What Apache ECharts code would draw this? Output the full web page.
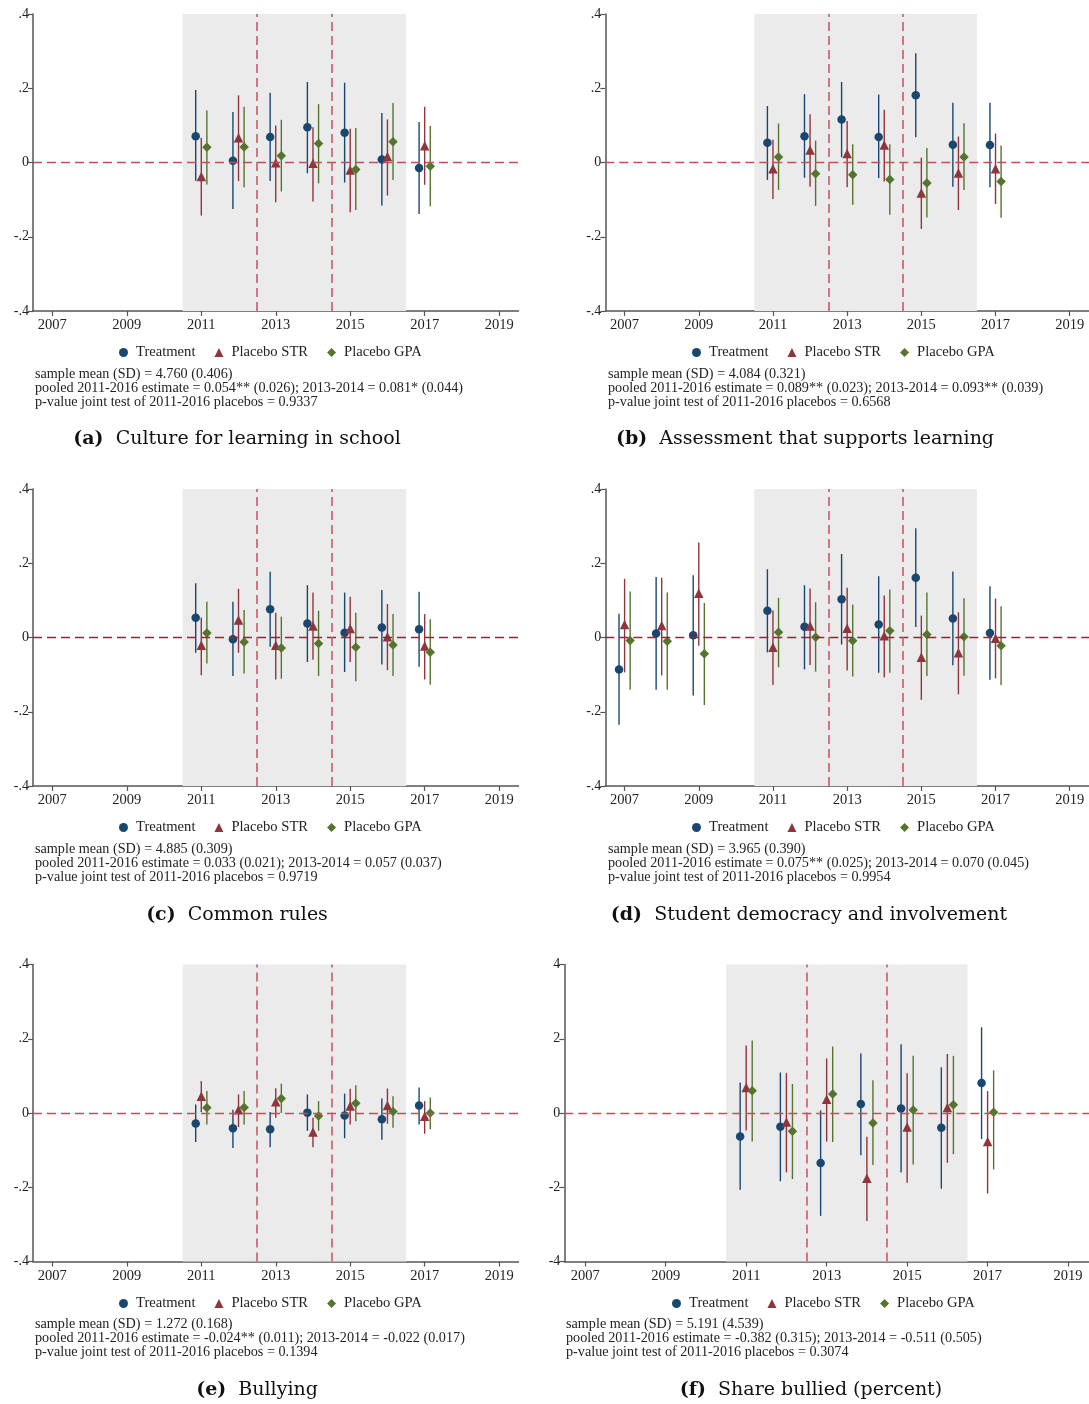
<!DOCTYPE html>
<html>
<head>
<meta charset="utf-8">
<script src="https://cdn.jsdelivr.net/npm/echarts@6/dist/echarts.min.js"></script>
<style>html,body{margin:0;padding:0;background:#fff;}#c{width:1089px;height:1404px;}</style>
</head>
<body>
<div id="c"></div>
<script>
// ---------- DATA: [estimate, CI low, CI high] per year ----------
const years = [2011, 2012, 2013, 2014, 2015, 2016, 2017];
const yearsD = [2007, 2008, 2009, 2011, 2012, 2013, 2014, 2015, 2016, 2017];
const xTicks = [2007, 2009, 2011, 2013, 2015, 2017, 2019];

// (a) Culture for learning in school
const a_treatment = [[0.071,-0.049,0.195],[0.005,-0.125,0.136],[0.069,-0.050,0.188],[0.095,-0.029,0.217],[0.080,-0.054,0.215],[0.008,-0.116,0.133],[-0.015,-0.139,0.109]];
const a_str = [[-0.038,-0.143,0.067],[0.067,-0.050,0.181],[-0.001,-0.107,0.100],[-0.002,-0.105,0.095],[-0.020,-0.134,0.091],[0.016,-0.089,0.116],[0.045,-0.060,0.150]];
const a_gpa = [[0.041,-0.059,0.140],[0.042,-0.067,0.150],[0.018,-0.078,0.115],[0.051,-0.056,0.157],[-0.019,-0.128,0.093],[0.056,-0.047,0.160],[-0.010,-0.118,0.098]];

// (b) Assessment that supports learning
const b_treatment = [[0.053,-0.047,0.152],[0.071,-0.041,0.184],[0.116,0.014,0.217],[0.069,-0.042,0.183],[0.181,0.068,0.294],[0.048,-0.065,0.161],[0.047,-0.067,0.161]];
const b_str = [[-0.017,-0.098,0.061],[0.034,-0.065,0.130],[0.024,-0.067,0.112],[0.047,-0.051,0.142],[-0.082,-0.179,0.013],[-0.028,-0.128,0.070],[-0.017,-0.112,0.078]];
const b_gpa = [[0.015,-0.074,0.105],[-0.030,-0.117,0.059],[-0.033,-0.114,0.049],[-0.046,-0.141,0.049],[-0.055,-0.148,0.039],[0.015,-0.074,0.106],[-0.051,-0.149,0.046]];

// (c) Common rules
const c_treatment = [[0.053,-0.041,0.146],[-0.005,-0.104,0.096],[0.076,-0.025,0.177],[0.038,-0.066,0.141],[0.013,-0.093,0.121],[0.027,-0.073,0.128],[0.022,-0.079,0.123]];
const c_str = [[-0.021,-0.102,0.054],[0.047,-0.041,0.131],[-0.021,-0.113,0.067],[0.031,-0.060,0.121],[0.024,-0.066,0.110],[0.002,-0.088,0.090],[-0.023,-0.113,0.063]];
const c_gpa = [[0.012,-0.070,0.096],[-0.012,-0.097,0.074],[-0.028,-0.111,0.056],[-0.016,-0.104,0.072],[-0.026,-0.118,0.067],[-0.020,-0.104,0.063],[-0.040,-0.127,0.049]];

// (d) Student democracy and involvement
const d_treatment = [[-0.086,-0.235,0.064],[0.011,-0.141,0.163],[0.006,-0.156,0.168],[0.072,-0.040,0.184],[0.029,-0.086,0.141],[0.103,-0.019,0.225],[0.035,-0.095,0.165],[0.161,0.028,0.294],[0.051,-0.075,0.178],[0.012,-0.114,0.138]];
const d_str = [[0.035,-0.094,0.158],[0.032,-0.102,0.161],[0.119,-0.022,0.256],[-0.026,-0.128,0.073],[0.031,-0.074,0.132],[0.025,-0.089,0.134],[0.005,-0.107,0.113],[-0.053,-0.168,0.059],[-0.041,-0.153,0.068],[-0.002,-0.110,0.105]];
const d_gpa = [[-0.008,-0.141,0.124],[-0.010,-0.141,0.121],[-0.044,-0.182,0.093],[0.014,-0.080,0.107],[0.001,-0.092,0.095],[-0.009,-0.105,0.089],[0.018,-0.095,0.129],[0.008,-0.104,0.121],[0.002,-0.103,0.106],[-0.022,-0.128,0.084]];

// (e) Bullying
const e_treatment = [[-0.028,-0.078,0.023],[-0.041,-0.094,0.009],[-0.044,-0.092,0.003],[0.001,-0.048,0.050],[-0.007,-0.068,0.052],[-0.017,-0.072,0.039],[0.020,-0.031,0.069]];
const e_str = [[0.045,0.003,0.086],[0.009,-0.038,0.050],[0.030,-0.013,0.067],[-0.051,-0.092,-0.013],[0.019,-0.031,0.065],[0.020,-0.029,0.066],[-0.009,-0.056,0.032]];
const e_gpa = [[0.014,-0.031,0.059],[0.015,-0.031,0.059],[0.039,0.000,0.079],[-0.008,-0.048,0.032],[0.026,-0.022,0.075],[0.004,-0.040,0.045],[0.000,-0.044,0.042]];

// (f) Share bullied (percent)
const f_treatment = [[-0.63,-2.07,0.82],[-0.37,-1.84,1.09],[-1.35,-2.77,0.07],[0.24,-1.14,1.60],[0.12,-1.60,1.85],[-0.40,-2.04,1.23],[0.81,-0.70,2.31]];
const f_str = [[0.69,-0.47,1.82],[-0.24,-1.60,1.08],[0.37,-0.77,1.47],[-1.76,-2.91,-0.64],[-0.38,-1.88,1.07],[0.15,-1.34,1.59],[-0.77,-2.17,0.59]];
const f_gpa = [[0.60,-0.77,1.95],[-0.49,-1.78,0.78],[0.51,-0.78,1.79],[-0.27,-1.40,0.88],[0.08,-1.39,1.54],[0.22,-1.11,1.54],[0.02,-1.52,1.15]];

const seriesNames = ['Treatment', 'Placebo STR', 'Placebo GPA'];

const notes_a = ['sample mean (SD) = 4.760 (0.406)', 'pooled 2011-2016 estimate = 0.054** (0.026); 2013-2014 = 0.081* (0.044)', 'p-value joint test of 2011-2016 placebos = 0.9337'];
const notes_b = ['sample mean (SD) = 4.084 (0.321)', 'pooled 2011-2016 estimate = 0.089** (0.023); 2013-2014 = 0.093** (0.039)', 'p-value joint test of 2011-2016 placebos = 0.6568'];
const notes_c = ['sample mean (SD) = 4.885 (0.309)', 'pooled 2011-2016 estimate = 0.033 (0.021); 2013-2014 = 0.057 (0.037)', 'p-value joint test of 2011-2016 placebos = 0.9719'];
const notes_d = ['sample mean (SD) = 3.965 (0.390)', 'pooled 2011-2016 estimate = 0.075** (0.025); 2013-2014 = 0.070 (0.045)', 'p-value joint test of 2011-2016 placebos = 0.9954'];
const notes_e = ['sample mean (SD) = 1.272 (0.168)', 'pooled 2011-2016 estimate = -0.024** (0.011); 2013-2014 = -0.022 (0.017)', 'p-value joint test of 2011-2016 placebos = 0.1394'];
const notes_f = ['sample mean (SD) = 5.191 (4.539)', 'pooled 2011-2016 estimate = -0.382 (0.315); 2013-2014 = -0.511 (0.505)', 'p-value joint test of 2011-2016 placebos = 0.3074'];

const captionLetters = ['(a)', '(b)', '(c)', '(d)', '(e)', '(f)'];
const captionTexts = ['Culture for learning in school', 'Assessment that supports learning', 'Common rules', 'Student democracy and involvement', 'Bullying', 'Share bullied (percent)'];

// ---------- STYLE / LAYOUT ----------
const COLORS = ['#1a476f', '#90353b', '#55752f'];
const SYMBOLS = ['circle', 'triangle', 'diamond'];
const SYMSIZE = [8.5, 9.5, 9.5];
const OFFSET = [-0.15, 0, 0.15];
const SERIF = '"Liberation Serif", "Times New Roman", serif';
const CAPFONT = '"DejaVu Serif", serif';

const panels = [
  {grid:{left:33, top:14, width:485.5, height:297}, years:years, data:[a_treatment,a_str,a_gpa], yMin:-0.4, yMax:0.4, yInt:0.2, zc:'#c94b5a', notes:notes_a, nx:35, ny:374.5, lx:119, ly:352, cx:237, cy:439},
  {grid:{left:605.3, top:14, width:485.5, height:297}, years:years, data:[b_treatment,b_str,b_gpa], yMin:-0.4, yMax:0.4, yInt:0.2, zc:'#c94b5a', notes:notes_b, nx:608, ny:374.5, lx:692, ly:352, cx:805, cy:439},
  {grid:{left:33, top:489, width:485.5, height:297}, years:years, data:[c_treatment,c_str,c_gpa], yMin:-0.4, yMax:0.4, yInt:0.2, zc:'#8a2a35', notes:notes_c, nx:35, ny:849.5, lx:119, ly:827, cx:237, cy:915},
  {grid:{left:605.3, top:489, width:485.5, height:297}, years:yearsD, data:[d_treatment,d_str,d_gpa], yMin:-0.4, yMax:0.4, yInt:0.2, zc:'#8a2a35', notes:notes_d, nx:608, ny:849.5, lx:692, ly:827, cx:809, cy:915},
  {grid:{left:33, top:964.5, width:485.5, height:297}, years:years, data:[e_treatment,e_str,e_gpa], yMin:-0.4, yMax:0.4, yInt:0.2, zc:'#c94b5a', notes:notes_e, nx:35, ny:1324.5, lx:119, ly:1303, cx:257, cy:1390},
  {grid:{left:564.3, top:964.5, width:526.4, height:297}, years:years, data:[f_treatment,f_str,f_gpa], yMin:-4, yMax:4, yInt:2, zc:'#c94b5a', notes:notes_f, nx:566, ny:1324.5, lx:672, ly:1303, cx:811, cy:1390}
];

function fmtY(v) {
  if (Math.abs(v) < 1e-9) return '0';
  const s = Number(Math.abs(v).toFixed(3)).toString().replace(/^0\./, '.');
  return (v < 0 ? '-' : '') + s;
}

function renderCI(params, api) {
  const x = api.value(0), lo = api.value(1), hi = api.value(2);
  const p1 = api.coord([x, lo]), p2 = api.coord([x, hi]);
  return {type:'line', shape:{x1:p1[0], y1:p1[1], x2:p2[0], y2:p2[1]}, style:{stroke: api.visual('color'), lineWidth:1.4}};
}

const grids = [], xAxes = [], yAxes = [], series = [], legends = [], graphics = [];
const axisLineStyle = {color:'#555', width:1.5};

panels.forEach((p, i) => {
  grids.push(p.grid);
  xAxes.push({
    type:'value', gridIndex:i, min:2006.48, max:2019.52,
    axisLine:{show:true, onZero:false, lineStyle:axisLineStyle},
    axisTick:{show:true, length:5, lineStyle:{color:'#555', width:1.2}, customValues:xTicks},
    axisLabel:{customValues:xTicks, fontFamily:SERIF, fontSize:14.5, color:'#222', margin:7, formatter: v => String(v)},
    splitLine:{show:false}
  });
  yAxes.push({
    type:'value', gridIndex:i, min:p.yMin, max:p.yMax, interval:p.yInt,
    axisLine:{show:true, onZero:false, lineStyle:axisLineStyle},
    axisTick:{show:true, length:5, lineStyle:{color:'#555', width:1.2}},
    axisLabel:{fontFamily:SERIF, fontSize:14, color:'#222', margin:4, formatter: fmtY},
    splitLine:{show:false}
  });
  // background shading + reference lines
  series.push({
    type:'line', xAxisIndex:i, yAxisIndex:i, data:[], z:1, silent:true,
    markArea:{silent:true, itemStyle:{color:'#ebebeb'}, data:[[{xAxis:2010.5},{xAxis:2016.5}]]},
    markLine:{silent:true, symbol:'none', label:{show:false}, animation:false, data:[
      {yAxis:0, lineStyle:{color:p.zc, type:[9,5], width:1.4}},
      {xAxis:2012.5, lineStyle:{color:'#c95a68', type:[9,5], width:1.6}},
      {xAxis:2014.5, lineStyle:{color:'#c95a68', type:[9,5], width:1.6}}
    ]}
  });
  p.data.forEach((arr, k) => {
    series.push({
      name: seriesNames[k] + ' CI', type:'custom', xAxisIndex:i, yAxisIndex:i, z:3, silent:true,
      itemStyle:{color:COLORS[k]}, renderItem: renderCI,
      data: arr.map((d, j) => [p.years[j] + OFFSET[k], d[1], d[2]])
    });
  });
  p.data.forEach((arr, k) => {
    series.push({
      name: seriesNames[k], type:'scatter', xAxisIndex:i, yAxisIndex:i, z:4,
      symbol:SYMBOLS[k], symbolSize:SYMSIZE[k], itemStyle:{color:COLORS[k], opacity:1},
      data: arr.map((d, j) => [p.years[j] + OFFSET[k], d[0]])
    });
  });
  legends.push({
    left:p.lx, top:p.ly - 7, padding:0, itemGap:19, itemWidth:9, itemHeight:9,
    textStyle:{fontFamily:SERIF, fontSize:14.6, color:'#222', padding:[0,0,0,3]},
    selectedMode:false,
    data:[{name:'Treatment', icon:'circle'},{name:'Placebo STR', icon:'triangle'},{name:'Placebo GPA', icon:'diamond'}]
  });
  p.notes.forEach((t, j) => {
    graphics.push({type:'text', left:p.nx, top:p.ny + j*14.3 - 7.5, silent:true,
      style:{text:t, fontFamily:SERIF, fontSize:14.2, fill:'#222'}});
  });
  graphics.push({type:'text', x:p.cx, y:p.cy, silent:true,
    style:{text:'{b|' + captionLetters[i] + '}  ' + captionTexts[i], fontFamily:CAPFONT, fontSize:19, fill:'#111',
      textAlign:'center', textVerticalAlign:'middle',
      rich:{b:{fontFamily:CAPFONT, fontSize:19, fontWeight:'bold', fill:'#111'}}}});
});

const chart = echarts.init(document.getElementById('c'), null, {renderer:'canvas'});
chart.setOption({
  animation:false,
  backgroundColor:'#fff',
  grid:grids, xAxis:xAxes, yAxis:yAxes, series:series, legend:legends, graphic:graphics
});
</script>
</body>
</html>
